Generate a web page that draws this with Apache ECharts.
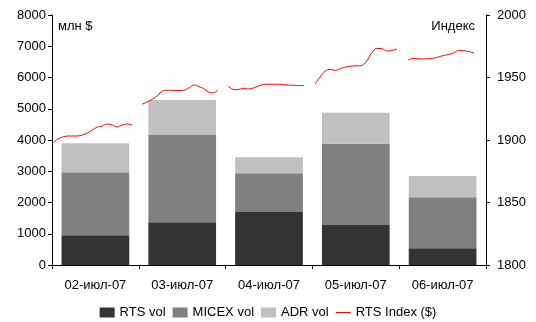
<!DOCTYPE html>
<html><head><meta charset="utf-8">
<script src="https://cdn.jsdelivr.net/npm/echarts@6/dist/echarts.min.js"></script>
<style>html,body{margin:0;padding:0;background:#fff}#c{width:536px;height:322px}</style>
</head><body><div id="c"></div>
<script>
const categories = ['02-июл-07','03-июл-07','04-июл-07','05-июл-07','06-июл-07'];
const rtsVol   = [950, 1370, 1700, 1280, 540];
const micexVol = [2020, 2790, 1240, 2600, 1630];
const adrVol   = [930, 1120, 510, 990, 680];
const leftTicks = [0, 8000, 1000];
const rightTicks = [1800, 2000, 50];
// RTS index intraday values per day
const rtsDay1 = [1897.6,1900.8,1902.4,1903.2,1903.2,1903.2,1904,1905.6,1908,1910.4,1911.2,1912.8,1912,1910.4,1912,1912.8,1912];
const rtsDay2 = [1928.6,1930.4,1932.4,1934.8,1938.4,1939.8,1939.8,1939.6,1939.6,1940,1942,1944,1942.8,1941.2,1938.4,1937.6,1940];
const rtsDay3 = [1943.2,1940.4,1940.4,1941.4,1940.8,1941.6,1943.2,1944.4,1944.6,1944.6,1944.6,1944.2,1944,1943.8,1943.5,1943.6];
const rtsDay4 = [1944.6,1950.4,1955.2,1956.6,1955.6,1957.2,1958.4,1959,1959.4,1959.4,1962.6,1969.4,1973.2,1973.2,1971.2,1971.6,1972.8];
const rtsDay5 = [1964,1965.2,1965,1964.8,1965,1965.4,1966.4,1967.6,1968.4,1969.6,1971.8,1971.4,1970.8,1969.6];
// trading session start/end within each day's slot (fraction of the day)
const sessionStart = [0.01, 0.04, 0.03, 0.03, 0.10];
const sessionEnd   = [0.92, 0.91, 0.90, 0.975, 0.86];

const days = [rtsDay1, rtsDay2, rtsDay3, rtsDay4, rtsDay5];
const lineData = [];
days.forEach((arr, d) => {
  const s = sessionStart[d], e = sessionEnd[d];
  arr.forEach((v, i) => lineData.push([d + s + (e - s) * i / (arr.length - 1), v]));
  lineData.push([d + 0.97, null]);
});

const font = 'Liberation Sans, Arial, sans-serif';
const chart = echarts.init(document.getElementById('c'), null, {renderer: 'canvas'});
chart.setOption({
  animation: false,
  textStyle: {fontFamily: font, color: '#000'},
  grid: {left: 52, right: 50, top: 15, bottom: 57},
  legend: {
    bottom: 3, left: 'center', padding: 0, itemWidth: 15, itemHeight: 10, itemGap: 7,
    textStyle: {fontFamily: font, fontSize: 13, color: '#000'},
    data: [
      {name: 'RTS vol', icon: 'rect'},
      {name: 'MICEX vol', icon: 'rect'},
      {name: 'ADR vol', icon: 'rect'},
      {name: 'RTS Index ($)', icon: 'path://M0,0H20V1.4H0Z'}
    ]
  },
  xAxis: [
    {type: 'category', data: categories, position: 'bottom',
     axisLine: {lineStyle: {color: '#000', width: 1}},
     axisTick: {show: true, length: 4, inside: false, alignWithLabel: false, lineStyle: {color: '#000'}},
     axisLabel: {fontFamily: font, fontSize: 13, color: '#000', margin: 14}},
    {type: 'value', min: 0, max: 5, show: false}
  ],
  yAxis: [
    {type: 'value', min: leftTicks[0], max: leftTicks[1], interval: leftTicks[2], position: 'left',
     splitLine: {show: false},
     axisLine: {show: true, lineStyle: {color: '#000'}},
     axisTick: {show: true, length: 4, lineStyle: {color: '#000'}},
     axisLabel: {fontFamily: font, fontSize: 13, color: '#000', margin: 6, formatter: v => String(v)}},
    {type: 'value', min: rightTicks[0], max: rightTicks[1], interval: rightTicks[2], position: 'right',
     splitLine: {show: false},
     axisLine: {show: true, lineStyle: {color: '#000'}},
     axisTick: {show: true, length: 4, lineStyle: {color: '#000'}},
     axisLabel: {fontFamily: font, fontSize: 13, color: '#000', margin: 11, formatter: v => String(v)}}
  ],
  graphic: [
    {type: 'text', left: 58, top: 20, style: {text: 'млн $', font: '13px ' + font, fill: '#000'}},
    {type: 'text', right: 61, top: 20, style: {text: 'Индекс', font: '13px ' + font, fill: '#000'}}
  ],
  series: [
    {name: 'RTS vol', type: 'bar', stack: 'v', data: rtsVol, barCategoryGap: '22%', itemStyle: {color: '#333333'}},
    {name: 'MICEX vol', type: 'bar', stack: 'v', data: micexVol, itemStyle: {color: '#808080'}},
    {name: 'ADR vol', type: 'bar', stack: 'v', data: adrVol, itemStyle: {color: '#c0c0c0'}},
    {name: 'RTS Index ($)', type: 'line', xAxisIndex: 1, yAxisIndex: 1, data: lineData,
     symbol: 'none', showSymbol: false, smooth: 0.3, connectNulls: false,
     lineStyle: {color: '#ff0000', width: 1}, itemStyle: {color: '#ff0000'}}
  ]
});
</script></body></html>
